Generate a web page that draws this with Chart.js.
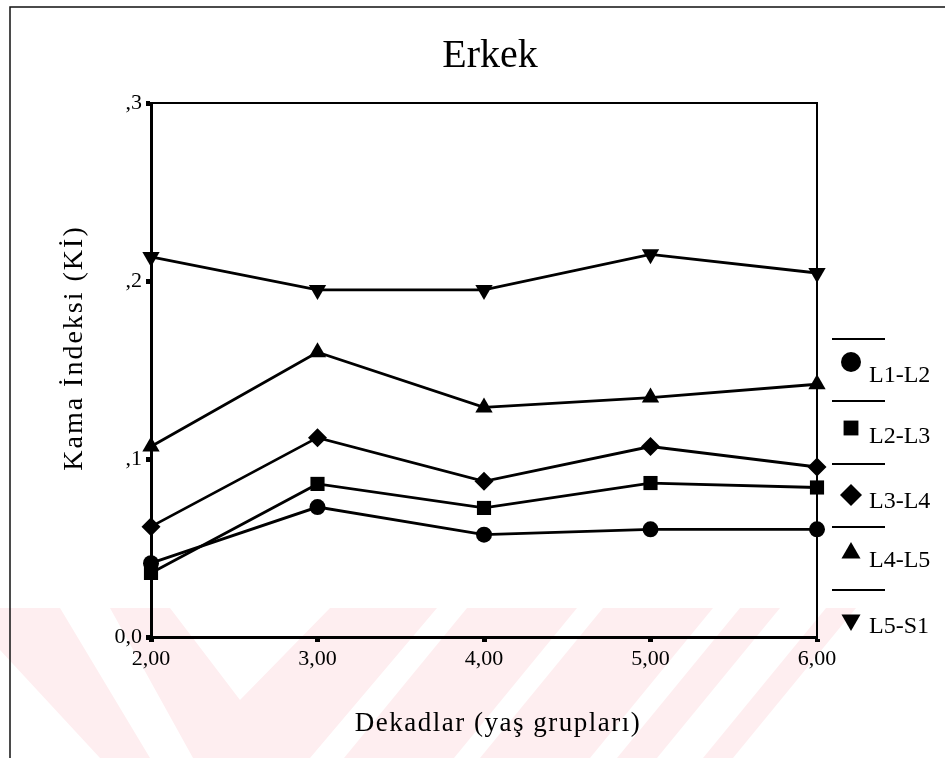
<!DOCTYPE html>
<html>
<head>
<meta charset="utf-8">
<title>Erkek</title>
<script src="https://cdn.jsdelivr.net/npm/chart.js@4.4.1/dist/chart.umd.min.js"></script>
<style>
  html, body { margin: 0; padding: 0; background: #fff; }
  #wrap { width: 945px; height: 758px; }
</style>
</head>
<body>
<div id="wrap"><canvas id="kama" width="945" height="758"></canvas></div>
<script>
// degerler
var decades = [2, 3, 4, 5, 6];
var xTickLabels = ['2,00', '3,00', '4,00', '5,00', '6,00'];
var yTickLabels = ['0,0', ',1', ',2', ',3'];

var l1l2 = [0.0415, 0.073, 0.0575, 0.0605, 0.0605];
var l2l3 = [0.036, 0.086, 0.0725, 0.0865, 0.084];
var l3l4 = [0.062, 0.112, 0.0875, 0.107, 0.0955];
var l4l5 = [0.107, 0.160, 0.129, 0.1345, 0.142];
var l5s1 = [0.2135, 0.195, 0.195, 0.215, 0.2045];

var seriesNames = ['L1-L2', 'L2-L3', 'L3-L4', 'L4-L5', 'L5-S1'];
var seriesValues = [l1l2, l2l3, l3l4, l4l5, l5s1];
var markers = [
  {style: 'circle', radius: 8, legendRadius: 10, rotation: 0},
  {style: 'rect', radius: 10, legendRadius: 10.5, rotation: 0},
  {style: 'rectRot', radius: 9.5, legendRadius: 11, rotation: 0},
  {style: 'triangle', radius: 10, legendRadius: 11, rotation: 0},
  {style: 'triangle', radius: 10, legendRadius: 11, rotation: 180}
];

var serif = "'Liberation Serif', 'Times New Roman', serif";

function toPoints(values){
  var pts = [];
  for (var i = 0; i < decades.length; i++) {
    pts.push({x: decades[i], y: values[i]});
  }
  return pts;
}

function buildDatasets(){
  var datasets = [];
  for (var i = 0; i < seriesNames.length; i++) {
    datasets.push({
      label: seriesNames[i],
      data: toPoints(seriesValues[i]),
      borderColor: '#000',
      backgroundColor: '#000',
      borderWidth: 2.8,
      pointStyle: markers[i].style,
      pointRadius: markers[i].radius,
      pointRotation: markers[i].rotation,
      pointBorderWidth: 0,
      tension: 0,
      clip: false
    });
  }
  return datasets;
}

// kucuk isaretler (lejant icin)
function drawMarker(ctx, m, x, y){
  var r = m.legendRadius;
  ctx.save();
  ctx.translate(x, y);
  ctx.rotate(m.rotation * Math.PI / 180);
  ctx.fillStyle = '#000';
  ctx.beginPath();
  if (m.style == 'circle') {
    ctx.arc(0, 0, r, 0, Math.PI * 2);
  } else if (m.style == 'rect') {
    var s = r * Math.SQRT1_2;
    ctx.rect(-s, -s, 2 * s, 2 * s);
  } else if (m.style == 'rectRot') {
    ctx.moveTo(0, -r); ctx.lineTo(r, 0); ctx.lineTo(0, r); ctx.lineTo(-r, 0);
  } else {
    ctx.moveTo(0, -r);
    ctx.lineTo(r * Math.cos(Math.PI / 6), r / 2);
    ctx.lineTo(-r * Math.cos(Math.PI / 6), r / 2);
  }
  ctx.closePath();
  ctx.fill();
  ctx.restore();
}

function spacedText(ctx, text, x, y, spacing){
  if ('letterSpacing' in ctx) ctx.letterSpacing = spacing + 'px';
  ctx.fillText(text, x, y);
  if ('letterSpacing' in ctx) ctx.letterSpacing = '0px';
}

// tez filigrani: soluk pembe seritler
var watermarkPlugin = {
  id: 'watermark',
  beforeDraw: function(chart){
    var ctx = chart.ctx;
    var shapes = [
      [[0,608],[60,608],[150,758],[100,758],[0,650]],
      [[110,608],[170,608],[240,700],[330,608],[437,608],[310,758],[193,758]],
      [[467,608],[577,608],[454,758],[344,758]],
      [[603,608],[713,608],[590,758],[480,758]],
      [[740,608],[780,608],[657,758],[617,758]],
      [[826,608],[856,608],[733,758],[703,758]]
    ];
    ctx.save();
    ctx.fillStyle = '#feeef0';
    for (var i = 0; i < shapes.length; i++) {
      ctx.beginPath();
      ctx.moveTo(shapes[i][0][0], shapes[i][0][1]);
      for (var j = 1; j < shapes[i].length; j++) {
        ctx.lineTo(shapes[i][j][0], shapes[i][j][1]);
      }
      ctx.closePath();
      ctx.fill();
    }
    ctx.restore();
  },
  beforeDatasetsDraw: function(chart){
    // grafik cercevesi (ust ve sag)
    var a = chart.chartArea;
    var ctx = chart.ctx;
    ctx.save();
    ctx.strokeStyle = '#000';
    ctx.lineWidth = 2;
    ctx.beginPath();
    ctx.moveTo(a.left, a.top);
    ctx.lineTo(a.right, a.top);
    ctx.lineTo(a.right, a.bottom);
    ctx.stroke();
    ctx.restore();
  },
  afterDraw: function(chart){
    var ctx = chart.ctx;
    ctx.save();
    // dis cerceve
    ctx.strokeStyle = '#111';
    ctx.lineWidth = 1.5;
    ctx.beginPath();
    ctx.moveTo(10, 758);
    ctx.lineTo(10, 7);
    ctx.lineTo(945, 7);
    ctx.stroke();

    // baslik
    ctx.fillStyle = '#000';
    ctx.font = '40px ' + serif;
    ctx.textAlign = 'center';
    ctx.textBaseline = 'middle';
    ctx.fillText('Erkek', 490, 56);

    // eksen basliklari
    ctx.font = '27px ' + serif;
    spacedText(ctx, 'Dekadlar (yaş grupları)', 498, 724, 1.5);
    ctx.save();
    ctx.translate(75, 348);
    ctx.rotate(-Math.PI / 2);
    ctx.font = '28px ' + serif;
    spacedText(ctx, 'Kama İndeksi (Kİ)', 0, 0, 2);
    ctx.restore();

    // lejant
    var lineYs = [339, 401, 464, 527, 590];
    var markYs = [362, 428, 495, 553, 620];
    var textYs = [376, 437, 502, 561, 627];
    ctx.font = '24px ' + serif;
    ctx.textAlign = 'left';
    for (var i = 0; i < seriesNames.length; i++) {
      ctx.strokeStyle = '#000';
      ctx.lineWidth = 2;
      ctx.beginPath();
      ctx.moveTo(832, lineYs[i]);
      ctx.lineTo(885, lineYs[i]);
      ctx.stroke();
      drawMarker(ctx, markers[i], 851, markYs[i]);
      ctx.fillText(seriesNames[i], 869, textYs[i]);
    }
    ctx.restore();
  }
};

function init(){
  var ctx = document.getElementById('kama');
  new Chart(ctx, {
    type: 'line',
    data: {
      datasets: buildDatasets()
    },
    options: {
      responsive: false,
      animation: false,
      layout: {
        padding: {left: 10, right: 128, top: 103, bottom: 0}
      },
      plugins: {
        legend: {display: false},
        tooltip: {enabled: false}
      },
      scales: {
        x: {
          type: 'linear',
          min: 2,
          max: 6,
          afterFit: function(scale){ scale.height = 121; },
          border: {color: '#000', width: 3},
          grid: {drawOnChartArea: false, tickLength: 5, tickWidth: 5, tickColor: '#000'},
          ticks: {
            stepSize: 1,
            padding: 4,
            color: '#000',
            font: {family: serif, size: 22},
            callback: function(value, index){ return xTickLabels[index]; }
          }
        },
        y: {
          min: 0,
          max: 0.3,
          afterFit: function(scale){ scale.width = 141; },
          border: {color: '#000', width: 3},
          grid: {drawOnChartArea: false, tickLength: 5, tickWidth: 5, tickColor: '#000'},
          ticks: {
            stepSize: 0.1,
            padding: 4,
            color: '#000',
            font: {family: serif, size: 22},
            callback: function(value, index){ return yTickLabels[index]; }
          }
        }
      }
    },
    plugins: [watermarkPlugin]
  });
}

init();
</script>
</body>
</html>
